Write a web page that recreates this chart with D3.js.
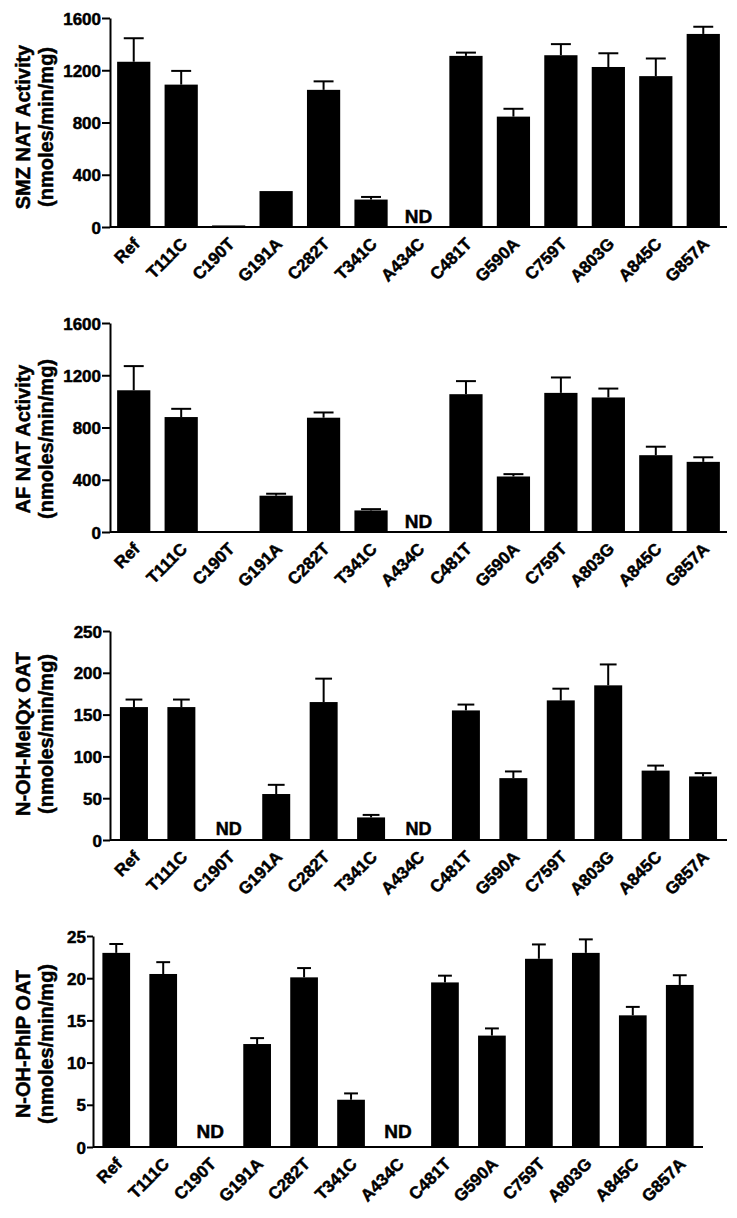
<!DOCTYPE html>
<html>
<head>
<meta charset="utf-8">
<script src="https://cdn.jsdelivr.net/npm/d3@7"></script>
<style>
  html, body { margin: 0; padding: 0; background: #fff; }
  svg { display: block; }
  text { font-family: "Liberation Sans", Arial, sans-serif; font-weight: bold; fill: #000; stroke: #000; stroke-width: 0.5px; }
</style>
</head>
<body>
<svg id="chart" width="737" height="1218"></svg>
<script>
// ---- data ----
const categories = ["Ref","T111C","C190T","G191A","C282T","T341C","A434C","C481T","G590A","C759T","A803G","A845C","G857A"];

// null = ND (not detected)
const smzMean = [1265, 1090, 12, 275, 1050, 210, null, 1310, 845, 1315, 1225, 1155, 1478];
const smzErr  = [180, 105, 0, 0, 65, 20, null, 25, 60, 85, 105, 135, 55];

const afMean  = [1085, 880, 0, 278, 875, 165, null, 1055, 425, 1065, 1030, 588, 537];
const afErr   = [185, 63, 0, 15, 40, 10, null, 100, 18, 118, 68, 65, 35];

const meiqxMean = [159, 159, null, 55, 165, 27, null, 155, 74, 167, 185, 83, 76];
const meiqxErr  = [9, 9, null, 11, 28, 3, null, 7, 8, 14, 25, 6, 4];

const phipMean = [23, 20.5, null, 12.2, 20.1, 5.6, null, 19.5, 13.2, 22.3, 23, 15.6, 19.2];
const phipErr  = [1.05, 1.4, null, 0.7, 1.1, 0.75, null, 0.8, 0.85, 1.7, 1.6, 1.0, 1.15];

const smzTicks   = [0, 400, 800, 1200, 1600];
const afTicks    = [0, 400, 800, 1200, 1600];
const meiqxTicks = [0, 50, 100, 150, 200, 250];
const phipTicks  = [0, 5, 10, 15, 20, 25];

const smzTitle   = ["SMZ NAT Activity", "(nmoles/min/mg)"];
const afTitle    = ["AF NAT Activity", "(nmoles/min/mg)"];
const meiqxTitle = ["N-OH-MeIQx OAT", "(nmoles/min/mg)"];
const phipTitle  = ["N-OH-PhIP OAT", "(nmoles/min/mg)"];
const ndLabel = "ND";

// ---- layout (positions only) ----
const panels = [
  { mean: smzMean, err: smzErr, ticks: smzTicks, title: smzTitle,
    x0: 110, x1: 727, yTop: 18, yBot: 227, pIn: 0.3, pOut: 0.15, tick: 8, titleCy: 127, ndSize: 19, ndLift: 4, capFrac: 0.6 },
  { mean: afMean, err: afErr, ticks: afTicks, title: afTitle,
    x0: 110, x1: 727, yTop: 323, yBot: 532, pIn: 0.3, pOut: 0.15, tick: 8, titleCy: 439, ndSize: 19, ndLift: 4, capFrac: 0.6 },
  { mean: meiqxMean, err: meiqxErr, ticks: meiqxTicks, title: meiqxTitle,
    x0: 110, x1: 727, yTop: 631, yBot: 840, pIn: 0.41, pOut: 0.21, tick: 7, titleCy: 734, ndSize: 18, ndLift: 5, capFrac: 0.6 },
  { mean: phipMean, err: phipErr, ticks: phipTicks, title: phipTitle,
    x0: 93, x1: 703, yTop: 936, yBot: 1147, pIn: 0.41, pOut: 0.2, tick: 6, titleCy: 1044, ndSize: 19, ndLift: 9, capFrac: 0.5 }
];

const svg = d3.select("#chart");
const FONT = "Liberation Sans, Arial, sans-serif";

panels.forEach(p => {
  const g = svg.append("g");
  const maxTick = p.ticks[p.ticks.length - 1];

  const x = d3.scaleBand().domain(categories).range([p.x0, p.x1])
    .paddingInner(p.pIn).paddingOuter(p.pOut);
  const y = d3.scaleLinear().domain([0, maxTick]).range([p.yBot, p.yTop]);

  const rows = categories.map((c, i) => ({ c, m: p.mean[i], e: p.err[i] }));

  // bars
  g.selectAll("rect.bar").data(rows.filter(d => d.m !== null && d.m > 0)).enter()
    .append("rect").attr("class", "bar")
    .attr("x", d => x(d.c))
    .attr("width", x.bandwidth())
    .attr("y", d => y(d.m))
    .attr("height", d => y(0) - y(d.m))
    .attr("fill", "#000");

  // error bars (upper only)
  const eb = rows.filter(d => d.m !== null && d.e > 0);
  const capW = x.bandwidth() * p.capFrac;
  g.selectAll("line.ev").data(eb).enter().append("line")
    .attr("x1", d => x(d.c) + x.bandwidth() / 2)
    .attr("x2", d => x(d.c) + x.bandwidth() / 2)
    .attr("y1", d => y(d.m))
    .attr("y2", d => y(d.m + d.e))
    .attr("stroke", "#000").attr("stroke-width", 2);
  g.selectAll("line.cap").data(eb).enter().append("line")
    .attr("x1", d => x(d.c) + x.bandwidth() / 2 - capW / 2)
    .attr("x2", d => x(d.c) + x.bandwidth() / 2 + capW / 2)
    .attr("y1", d => y(d.m + d.e))
    .attr("y2", d => y(d.m + d.e))
    .attr("stroke", "#000").attr("stroke-width", 2);

  // ND labels
  g.selectAll("text.nd").data(rows.filter(d => d.m === null)).enter()
    .append("text")
    .attr("x", d => x(d.c) + x.bandwidth() / 2)
    .attr("y", y(0) - p.ndLift)
    .attr("text-anchor", "middle")
    .style("font-size", p.ndSize + "px")
    .text(ndLabel);

  // y axis
  const ya = g.append("g").attr("transform", `translate(${p.x0},0)`)
    .call(d3.axisLeft(y).tickValues(p.ticks).tickFormat(d3.format("d"))
      .tickSize(p.tick).tickSizeOuter(0).tickPadding(1));
  ya.select(".domain").attr("stroke", "#000").attr("stroke-width", 2);
  ya.selectAll(".tick line").attr("stroke", "#000").attr("stroke-width", 2);
  ya.selectAll(".tick text").style("font-size", "17px").style("font-family", FONT)
    .style("font-weight", "bold").attr("fill", "#000").attr("dy", "0.36em");

  // x axis
  const xa = g.append("g").attr("transform", `translate(0,${p.yBot})`)
    .call(d3.axisBottom(x).tickSize(0).tickSizeOuter(0).tickPadding(0));
  xa.select(".domain").attr("stroke", "#000").attr("stroke-width", 2)
    .attr("d", `M${p.x0},0H${p.x1}`);
  xa.selectAll(".tick text")
    .style("font-size", "17px").style("font-family", FONT).style("font-weight", "bold")
    .attr("fill", "#000")
    .attr("text-anchor", "end")
    .attr("dy", 0).attr("y", 0)
    .attr("transform", "translate(7,18) rotate(-45)");

  // y title
  const t = g.append("text")
    .attr("transform", `translate(30,${p.titleCy}) rotate(-90)`)
    .attr("text-anchor", "middle")
    .style("font-size", "20px");
  t.append("tspan").attr("x", 0).attr("y", 0).text(p.title[0]);
  t.append("tspan").attr("x", 0).attr("y", 23).text(p.title[1]);
});
</script>
</body>
</html>
